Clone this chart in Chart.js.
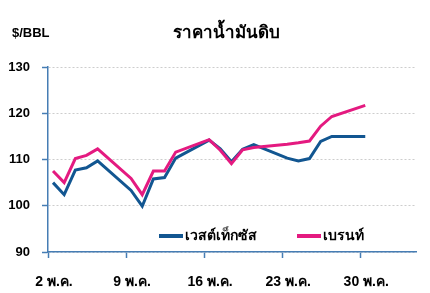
<!DOCTYPE html>
<html>
<head>
<meta charset="utf-8">
<script src="https://cdn.jsdelivr.net/npm/chart.js@4"></script>
<style>
  html, body { margin: 0; padding: 0; background: #fff; }
  #wrap { width: 430px; height: 293px; }
</style>
</head>
<body>
<div id="wrap"><canvas id="oil_chart" width="430" height="293"></canvas></div>
<script>
// trading days in May
const DAYS = [2, 3, 4, 5, 6, 9, 10, 11, 12, 13, 16, 17, 18, 19, 20, 23, 24, 25, 26, 27, 30];
const WTI = [105.0, 102.4, 107.7, 108.2, 109.7, 103.3, 99.9, 105.8, 106.1, 110.3, 114.2, 112.3, 109.5, 112.2, 113.2, 110.3, 109.7, 110.2, 113.9, 115.0, 115.0];
const BRENT = [107.5, 105.0, 110.2, 110.9, 112.3, 105.9, 102.4, 107.5, 107.5, 111.6, 114.3, 112.0, 109.1, 112.1, 112.6, 113.3, 113.6, 114.0, 117.2, 119.3, 121.7];
const SERIES_NAMES = ['เวสต์เท็กซัส', 'เบรนท์'];
const TICK_DAYS = [2, 9, 16, 23, 30];
const TICK_LABELS = ['2 พ.ค.', '9 พ.ค.', '16 พ.ค.', '23 พ.ค.', '30 พ.ค.'];
const TITLE = 'ราคาน้ำมันดิบ';
const UNIT = '$/BBL';

const COLORS = {
    blue: 'rgb(18, 86, 145)',
    pink: 'rgb(228, 26, 128)',
    axis: 'rgb(70, 125, 180)',
    grid: 'rgb(205, 205, 205)'
};
const FONT = '"Liberation Sans", "DejaVu Sans", "Noto Sans", sans-serif';
const TICK_SHIFT = 0.45; // ticks sit a little before the day's point

const textPlugin = {
    id: 'oil_text',
    afterDraw(chart) {
        const ctx = chart.ctx;
        const area = chart.chartArea;
        ctx.save();
        ctx.fillStyle = '#000';
        ctx.textBaseline = 'middle';
        ctx.font = 'bold 13px ' + FONT;
        ctx.textAlign = 'left';
        ctx.fillText(UNIT, 12, 33);
        ctx.font = 'bold 17px ' + FONT;
        ctx.textAlign = 'center';
        ctx.fillText(TITLE, 226, 33);

        // legend inside the plot, bottom
        const items = [[SERIES_NAMES[0], COLORS.blue, area.left + 111], [SERIES_NAMES[1], COLORS.pink, area.left + 249]];
        ctx.font = 'bold 14px ' + FONT;
        ctx.textAlign = 'left';
        for (const it of items) {
            const y = area.bottom - 16;
            ctx.strokeStyle = it[1];
            ctx.lineWidth = 4;
            ctx.beginPath();
            ctx.moveTo(it[2], y);
            ctx.lineTo(it[2] + 24, y);
            ctx.stroke();
            ctx.fillText(it[0], it[2] + 26, y);
        }
        ctx.restore();
    }
};

const ctx = document.getElementById('oil_chart').getContext('2d');
const chart = new Chart(ctx, {
    type: 'line',
    data: {
        datasets: [
            {
                label: SERIES_NAMES[0],
                data: DAYS.map((d, i) => ({ x: d, y: WTI[i] })),
                borderColor: COLORS.blue,
                backgroundColor: COLORS.blue,
                borderWidth: 3,
                pointRadius: 0,
                tension: 0,
                order: 1
            },
            {
                label: SERIES_NAMES[1],
                data: DAYS.map((d, i) => ({ x: d, y: BRENT[i] })),
                borderColor: COLORS.pink,
                backgroundColor: COLORS.pink,
                borderWidth: 3,
                pointRadius: 0,
                tension: 0,
                order: 0
            }
        ]
    },
    options: {
        responsive: false,
        animation: false,
        layout: { padding: { left: 0, right: 14, top: 67, bottom: 0 } },
        plugins: {
            legend: { display: false },
            title: { display: false },
            tooltip: { enabled: false }
        },
        scales: {
            x: {
                type: 'linear',
                min: TICK_DAYS[0] - TICK_SHIFT,
                max: 35 - TICK_SHIFT,
                afterBuildTicks: (scale) => {
                    scale.ticks = TICK_DAYS.map(d => ({ value: d - TICK_SHIFT }));
                },
                afterFit: (scale) => { scale.height = 41; },
                ticks: {
                    autoSkip: false,
                    maxRotation: 0,
                    padding: 16,
                    labelOffset: 6,
                    color: '#000',
                    font: { family: FONT, size: 14, weight: 'bold' },
                    callback: (value, index) => TICK_LABELS[index]
                },
                grid: {
                    drawOnChartArea: false,
                    tickLength: 6,
                    tickColor: COLORS.axis,
                    tickWidth: 1.5
                },
                border: { color: COLORS.axis, width: 1.5 }
            },
            y: {
                min: 90,
                max: 130,
                afterFit: (scale) => { scale.width = 48; },
                ticks: {
                    stepSize: 10,
                    padding: 12,
                    color: '#000',
                    font: { family: FONT, size: 13, weight: 'bold' }
                },
                grid: {
                    color: COLORS.grid,
                    tickLength: 6,
                    tickColor: COLORS.axis,
                    tickWidth: 1.5,
                    tickBorderDash: [],
                    lineWidth: 1
                },
                border: { color: COLORS.axis, width: 1.5, dash: [2, 2] }
            }
        }
    },
    plugins: [textPlugin]
});
</script>
</body>
</html>
